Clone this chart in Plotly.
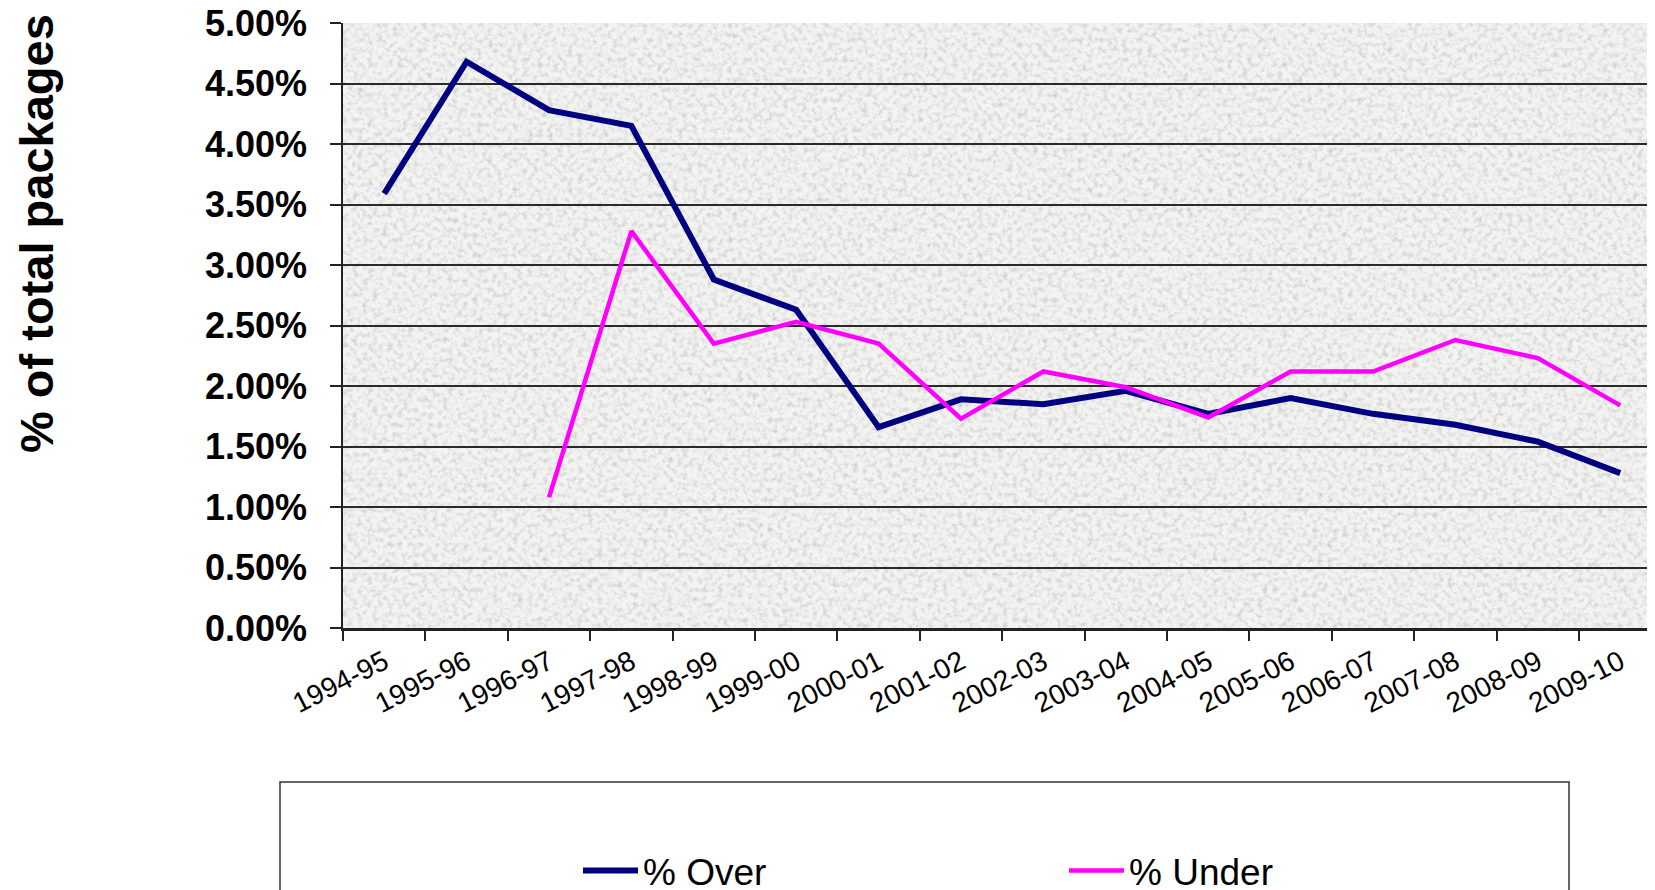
import plotly.graph_objects as go
import urllib.parse

years = ["1994-95", "1995-96", "1996-97", "1997-98", "1998-99", "1999-00",
         "2000-01", "2001-02", "2002-03", "2003-04", "2004-05", "2005-06",
         "2006-07", "2007-08", "2008-09", "2009-10"]
pct_over = [3.59, 4.68, 4.28, 4.15, 2.88, 2.63, 1.66, 1.89, 1.85, 1.96,
            1.77, 1.90, 1.77, 1.68, 1.54, 1.28]
pct_under = [None, None, 1.08, 3.28, 2.35, 2.53, 2.35, 1.73, 2.12, 1.99,
             1.74, 2.12, 2.12, 2.38, 2.23, 1.84]
y_ticks = [0, 0.5, 1.0, 1.5, 2.0, 2.5, 3.0, 3.5, 4.0, 4.5, 5.0]
y_ticklabels = [f"{v:.2f}%" for v in y_ticks]

# the page places the figure 8px in from the top-left corner
OFF = 8
W, H = 1655, 890
L, T = 343 - OFF, 23 - OFF
B = H - (628 - OFF)
PW, PH = W - L, H - T - B


def px_x(x):  # x in page pixels -> paper
    return (x - OFF - L) / PW


def px_y(y):  # y in page pixels -> paper
    return (T + PH - (y - OFF)) / PH


svg = (f"<svg xmlns='http://www.w3.org/2000/svg' width='{PW}' height='{PH}'>"
       "<filter id='n' x='0' y='0' width='100%' height='100%'>"
       "<feTurbulence type='fractalNoise' baseFrequency='0.2' numOctaves='3' seed='7'/>"
       "<feColorMatrix type='matrix' values='0 0 0 0 0.45  0 0 0 0 0.45  0 0 0 0 0.45  1.3 0 0 0 -0.57'/>"
       "</filter>"
       "<rect width='100%' height='100%' fill='#f3f3f1'/>"
       "<rect width='100%' height='100%' filter='url(#n)'/>"
       "</svg>")
tex = "data:image/svg+xml;charset=utf-8," + urllib.parse.quote(svg)

FONT = "Liberation Sans, Arial, sans-serif"

fig = go.Figure()
fig.add_trace(go.Scatter(x=years, y=pct_over, mode="lines", name="% Over",
                         line=dict(color="#000080", width=6)))
fig.add_trace(go.Scatter(x=years, y=pct_under, mode="lines", name="% Under",
                         line=dict(color="#FF00FF", width=4.5)))

fig.update_layout(
    width=W, height=H,
    margin=dict(l=L, r=0, t=T, b=B, pad=0, autoexpand=False),
    paper_bgcolor="white",
    plot_bgcolor="rgba(0,0,0,0)",
    font=dict(family=FONT, color="black"),
    images=[dict(source=tex, xref="paper", yref="paper", x=0, y=1,
                 sizex=1, sizey=1, sizing="stretch", layer="below")],
    xaxis=dict(type="category", range=[-0.5, -0.5 + PW / 82.4], tickson="boundaries",
               ticks="outside", ticklen=10, tickwidth=1.5, tickcolor="#222",
               showline=True, linecolor="#222", linewidth=2.5,
               showgrid=False, tickangle=-27, ticklabelstandoff=4,
               automargin=False, ticklabeloverflow="allow",
               tickfont=dict(size=28, family=FONT)),
    yaxis=dict(range=[0, 5], tickvals=y_ticks, ticktext=y_ticklabels,
               ticks="outside", ticklen=11, tickwidth=1.5, tickcolor="#222",
               showline=True, linecolor="#222", linewidth=1.5,
               showgrid=True, gridcolor="#2a2a2a", gridwidth=1.5,
               zeroline=False, automargin=False, ticklabeloverflow="allow",
               tickfont=dict(size=36, family=FONT, weight="bold"),
               ticklabelstandoff=16),
    showlegend=True,
    legend=dict(orientation="h", x=px_x(570 + OFF), y=px_y(871), xanchor="left",
                yanchor="middle", bgcolor="rgba(0,0,0,0)", borderwidth=0,
                font=dict(size=37, family=FONT), entrywidth=416,
                entrywidthmode="pixels", itemwidth=55),
    shapes=[dict(type="rect", xref="paper", yref="paper",
                 x0=px_x(280), x1=px_x(1569), y0=px_y(782), y1=px_y(960),
                 line=dict(color="#333", width=1.5), fillcolor="rgba(0,0,0,0)",
                 layer="below")],
    annotations=[dict(text="<b>% of total packages</b>", xref="paper", yref="paper",
                      x=px_x(36), y=px_y(234), textangle=-90,
                      showarrow=False, xanchor="center", yanchor="middle",
                      font=dict(size=47, family=FONT))],
)

fig.write_html("out.html")
